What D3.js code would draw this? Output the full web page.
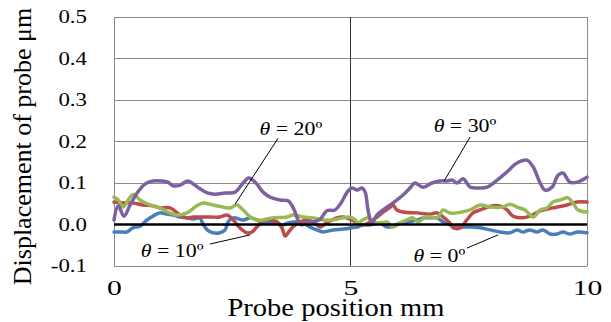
<!DOCTYPE html>
<html>
<head>
<meta charset="utf-8">
<script src="https://cdn.jsdelivr.net/npm/d3@7"></script>
<style>
  body { margin: 0; background: #fff; }
  svg { display: block; }
</style>
</head>
<body>
<svg id="chart" width="611" height="322" font-family="'Liberation Serif', 'Times New Roman', serif"></svg>
<script>
// Data: [position mm, displacement um]
var theta0 = [[0,-0.018],[0.13,-0.018],[0.27,-0.018],[0.40,-0.008],[0.55,-0.004],[0.70,0.011],[0.82,0.020],[0.97,0.028],[1.12,0.025],[1.25,0.023],[1.40,0.018],[1.54,0.016],[1.67,0.013],[1.82,0.016],[1.86,0.006],[1.97,-0.013],[2.09,-0.020],[2.24,-0.020],[2.35,-0.013],[2.41,0.006],[2.52,0.016],[2.73,0.011],[2.88,0.016],[3.02,0.011],[3.15,0.004],[3.34,0.006],[3.57,-0.001],[3.68,0.004],[3.87,0.006],[4.00,0.004],[4.14,-0.006],[4.29,-0.013],[4.42,-0.018],[4.63,-0.013],[4.84,-0.011],[5.03,-0.008],[5.14,-0.006],[5.26,-0.001],[5.41,-0.001],[5.62,0.004],[5.77,-0.006],[5.90,-0.004],[6.05,0.004],[6.22,0.006],[6.41,0.011],[6.53,0.016],[6.72,0.016],[6.83,0.016],[6.96,0.006],[7.10,-0.001],[7.32,-0.006],[7.53,-0.006],[7.74,-0.008],[7.95,-0.013],[8.16,-0.018],[8.37,-0.020],[8.52,-0.013],[8.65,-0.018],[8.79,-0.013],[8.94,-0.018],[9.07,-0.013],[9.22,-0.023],[9.37,-0.023],[9.49,-0.018],[9.64,-0.023],[9.79,-0.018],[10,-0.020]];

var theta10 = [[0,0.054],[0.19,0.052],[0.40,0.052],[0.61,0.047],[0.82,0.045],[0.97,0.040],[1.18,0.040],[1.40,0.023],[1.54,0.016],[1.67,0.018],[1.82,0.018],[2.03,0.018],[2.24,0.018],[2.39,0.023],[2.52,0.011],[2.66,-0.008],[2.81,-0.020],[2.92,-0.018],[3.02,-0.006],[3.19,0.011],[3.34,0.011],[3.45,0.006],[3.55,-0.008],[3.62,-0.028],[3.68,-0.020],[3.78,-0.006],[3.93,0.006],[4.08,0.011],[4.21,0.006],[4.36,-0.006],[4.50,0.004],[4.71,0.016],[4.84,0.018],[5.03,0.011],[5.14,0.004],[5.26,-0.001],[5.41,0.006],[5.56,0.018],[5.69,0.030],[5.84,0.042],[5.90,0.047],[5.98,0.035],[6.11,0.030],[6.41,0.028],[6.68,0.025],[6.83,0.028],[6.96,0.018],[7.10,0.004],[7.17,-0.008],[7.32,-0.008],[7.46,0.011],[7.59,0.028],[7.74,0.035],[8.01,0.045],[8.16,0.045],[8.31,0.035],[8.44,0.020],[8.63,0.016],[8.79,0.020],[9.01,0.033],[9.28,0.040],[9.58,0.047],[9.79,0.054],[10,0.054]];

var theta20 = [[0,0.066],[0.09,0.059],[0.19,0.042],[0.34,0.066],[0.42,0.073],[0.55,0.059],[0.76,0.047],[0.97,0.040],[1.18,0.028],[1.33,0.023],[1.54,0.028],[1.75,0.045],[1.88,0.052],[2.09,0.047],[2.30,0.042],[2.45,0.040],[2.60,0.047],[2.73,0.035],[2.88,0.018],[3.02,0.011],[3.15,0.011],[3.34,0.016],[3.66,0.018],[3.78,0.023],[4.00,0.018],[4.21,0.016],[4.42,0.011],[4.63,0.011],[4.84,0.016],[4.99,0.018],[5.10,0.011],[5.16,0.004],[5.26,0.011],[5.37,0.016],[5.48,0.006],[5.62,0.004],[5.77,0.006],[5.90,-0.006],[6.05,0.004],[6.19,0.011],[6.32,0.016],[6.43,0.006],[6.58,0.018],[6.72,0.018],[6.83,0.016],[6.96,0.035],[7.10,0.028],[7.25,0.028],[7.53,0.035],[7.74,0.047],[7.95,0.042],[8.22,0.042],[8.37,0.049],[8.52,0.042],[8.69,0.035],[8.86,0.018],[9.01,0.035],[9.15,0.040],[9.28,0.054],[9.43,0.059],[9.60,0.064],[9.70,0.052],[9.81,0.035],[10,0.030]];

var theta30 = [[0,0.011],[0.09,0.045],[0.21,0.020],[0.34,0.047],[0.49,0.076],[0.66,0.098],[0.82,0.105],[1.01,0.105],[1.14,0.102],[1.25,0.093],[1.40,0.095],[1.56,0.105],[1.67,0.098],[1.82,0.086],[1.97,0.076],[2.14,0.073],[2.35,0.076],[2.56,0.078],[2.73,0.100],[2.85,0.112],[3.00,0.100],[3.15,0.078],[3.30,0.066],[3.51,0.059],[3.68,0.057],[3.81,0.035],[3.89,0.011],[3.97,-0.001],[4.08,0.006],[4.21,0.006],[4.36,0.013],[4.50,0.033],[4.67,0.035],[4.80,0.052],[4.93,0.078],[5.03,0.088],[5.14,0.083],[5.24,0.088],[5.31,0.078],[5.37,0.035],[5.45,0.004],[5.56,0.023],[5.69,0.035],[5.90,0.052],[6.11,0.071],[6.26,0.088],[6.36,0.100],[6.53,0.090],[6.72,0.100],[6.89,0.105],[7.04,0.105],[7.15,0.107],[7.25,0.100],[7.38,0.110],[7.53,0.090],[7.74,0.088],[7.89,0.090],[8.10,0.107],[8.31,0.127],[8.52,0.148],[8.73,0.155],[8.86,0.139],[9.01,0.100],[9.11,0.083],[9.26,0.090],[9.39,0.119],[9.49,0.124],[9.64,0.102],[9.79,0.102],[10,0.114]];

var yTicks = [-0.1, 0, 0.1, 0.2, 0.3, 0.4, 0.5];
var xTicks = [0, 5, 10];

// labels: angle, text anchor [mm, um], leader line from / to
var labels = [
  { angle: "20", at: [3.74, 0.216], from: [3.47, 0.208], to: [2.56, 0.049] },
  { angle: "10", at: [1.23, -0.078], from: [2.03, -0.047], to: [2.88, -0.025] },
  { angle: "30", at: [7.42, 0.223], from: [7.53, 0.211], to: [6.98, 0.105] },
  { angle: "0", at: [6.88, -0.090], from: [7.46, -0.057], to: [8.12, -0.025] }
];

var seriesList = [
  { data: theta0, color: "#4a7ebb" },
  { data: theta10, color: "#be4b48" },
  { data: theta20, color: "#98b954" },
  { data: theta30, color: "#7d60a0" }
];

var serif = "'Liberation Serif', 'Times New Roman', serif";

// Layout
var margin = { left: 114, top: 17, right: 24, bottom: 56 };
var width = 611 - margin.left - margin.right;
var height = 322 - margin.top - margin.bottom;

var svg = d3.select("#chart");
var g = svg.append("g").attr("transform", "translate(" + margin.left + "," + margin.top + ")");

var x = d3.scaleLinear().domain([0, 10]).range([0, width]);
var y = d3.scaleLinear().domain([-0.1, 0.5]).range([height, 0]);

// widen text like the original rendering
var stretch = function(sel, k) {
  sel.each(function() {
    var w = this.getComputedTextLength();
    d3.select(this).attr("textLength", w * k).attr("lengthAdjust", "spacingAndGlyphs");
  });
};

// grid
g.selectAll(".grid").data(yTicks).enter().append("line")
  .attr("x1", 0).attr("x2", width)
  .attr("y1", function(d) { return y(d); })
  .attr("y2", function(d) { return y(d); })
  .attr("stroke", "#8a8a8a").attr("stroke-width", 1)
  .attr("shape-rendering", "crispEdges");

g.append("line").attr("x1", 0).attr("x2", 0).attr("y1", 0).attr("y2", height)
  .attr("stroke", "#8a8a8a").attr("shape-rendering", "crispEdges");
g.append("line").attr("x1", width).attr("x2", width).attr("y1", 0).attr("y2", height)
  .attr("stroke", "#8a8a8a").attr("shape-rendering", "crispEdges");
g.append("line").attr("x1", x(5)).attr("x2", x(5)).attr("y1", 0).attr("y2", height)
  .attr("stroke", "#333").attr("shape-rendering", "crispEdges");

// series
var line = d3.line()
  .x(function(d) { return x(d[0]); })
  .y(function(d) { return y(d[1]); })
  .curve(d3.curveCatmullRom.alpha(0.5));

seriesList.forEach(function(s) {
  g.append("path").datum(s.data)
    .attr("d", line)
    .attr("fill", "none")
    .attr("stroke", s.color)
    .attr("stroke-width", 3.5)
    .attr("stroke-linejoin", "round")
    .attr("stroke-linecap", "round");
});

// zero line
g.append("line").attr("x1", 0).attr("x2", width).attr("y1", y(0)).attr("y2", y(0))
  .attr("stroke", "#000").attr("stroke-width", 2.5);

// axes
var yAxis = g.append("g")
  .call(d3.axisLeft(y).tickValues(yTicks).tickSize(0).tickPadding(27)
    .tickFormat(function(d) { return d.toFixed(1); }));
yAxis.attr("font-family", serif).attr("font-size", 18);
yAxis.select(".domain").remove();
yAxis.selectAll("text").attr("fill", "#000").call(stretch, 1.27);

var xAxis = g.append("g").attr("transform", "translate(0," + height + ")")
  .call(d3.axisBottom(x).tickValues(xTicks).tickSize(0).tickPadding(13)
    .tickFormat(function(d) { return d; }));
xAxis.attr("font-family", serif).attr("font-size", 22);
xAxis.select(".domain").remove();
xAxis.selectAll("text").attr("fill", "#000").call(stretch, 1.35);

// axis titles
svg.append("text")
  .attr("transform", "translate(31," + (margin.top + height / 2 + 5) + ") rotate(-90)")
  .attr("text-anchor", "middle")
  .attr("font-size", 26)
  .text("Displacement of probe \u03bcm");

svg.append("text")
  .attr("x", 336).attr("y", 316)
  .attr("text-anchor", "middle")
  .attr("font-size", 25)
  .text("Probe position mm")
  .call(stretch, 1.14);

// annotations
labels.forEach(function(l) {
  g.append("line")
    .attr("x1", x(l.from[0])).attr("y1", y(l.from[1]))
    .attr("x2", x(l.to[0])).attr("y2", y(l.to[1]))
    .attr("stroke", "#000").attr("stroke-width", 1);
  var t = g.append("text")
    .attr("x", x(l.at[0])).attr("y", y(l.at[1]))
    .attr("text-anchor", "middle")
    .attr("font-size", 19);
  t.append("tspan").attr("font-style", "italic").text("\u03b8");
  t.append("tspan").text(" = " + l.angle + "\u00ba");
  t.call(stretch, 1.15);
});
</script>
</body>
</html>
